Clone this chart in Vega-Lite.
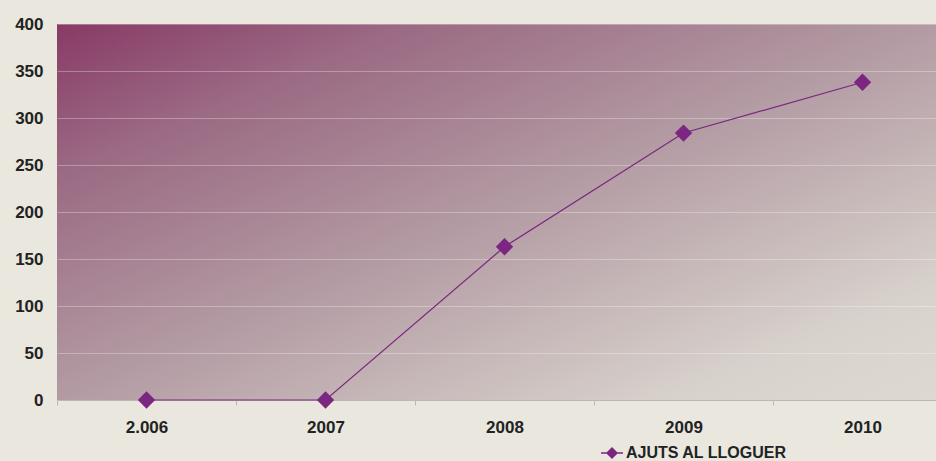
{
  "$schema": "https://vega.github.io/schema/vega-lite/v6.json",
  "width": 879,
  "height": 376,
  "autosize": {"type": "none"},
  "padding": {"left": 57, "top": 24, "right": 0, "bottom": 61},
  "background": "#e9e7de",
  "config": {
    "view": {
      "stroke": null,
      "fill": {
        "gradient": "linear",
        "x1": 0, "y1": 0, "x2": 1, "y2": 1,
        "stops": [
          {"offset": 0, "color": "#883a66"},
          {"offset": 0.2, "color": "#9b6a83"},
          {"offset": 0.5, "color": "#b39ba3"},
          {"offset": 0.85, "color": "#d8d2cc"},
          {"offset": 1, "color": "#ddd9d1"}
        ]
      }
    },
    "font": "Liberation Sans"
  },
  "data": {
    "values": [
      {"year": 2006, "value": 0, "serie": "AJUTS AL LLOGUER"},
      {"year": 2007, "value": 0, "serie": "AJUTS AL LLOGUER"},
      {"year": 2008, "value": 163, "serie": "AJUTS AL LLOGUER"},
      {"year": 2009, "value": 284, "serie": "AJUTS AL LLOGUER"},
      {"year": 2010, "value": 338, "serie": "AJUTS AL LLOGUER"}
    ]
  },
  "encoding": {
    "x": {
      "field": "year",
      "type": "quantitative",
      "scale": {"domain": [2005.5, 2010.4106], "nice": false, "zero": false},
      "axis": {
        "title": null,
        "values": [2005.5, 2006.5, 2007.5, 2008.5, 2009.5],
        "labelOffset": 89.5,
        "labelFlush": false,
        "labelOverlap": false,
        "labelExpr": "datum.value == 2005.5 ? '2.006' : format(datum.value + 0.5, 'd')",
        "labelFont": "Liberation Sans",
        "labelFontWeight": "bold",
        "labelFontSize": 17,
        "labelColor": "#222222",
        "labelPadding": 14,
        "tickSize": 5,
        "tickColor": "#bdb8b2",
        "domainColor": "#bdb8b2",
        "grid": false
      }
    },
    "y": {
      "field": "value",
      "type": "quantitative",
      "scale": {"domain": [0, 400], "nice": false},
      "axis": {
        "title": null,
        "values": [0, 50, 100, 150, 200, 250, 300, 350, 400],
        "labelFont": "Liberation Sans",
        "labelFontWeight": "bold",
        "labelFontSize": 17,
        "labelColor": "#222222",
        "labelPadding": 14,
        "ticks": false,
        "domain": false,
        "grid": true,
        "gridColor": "#ffffff",
        "gridOpacity": 0.3,
        "gridWidth": 1
      }
    },
    "color": {
      "field": "serie",
      "type": "nominal",
      "scale": {"range": ["#7b2680"]},
      "legend": {
        "title": null,
        "orient": "none",
        "legendX": 543,
        "legendY": 417,
        "padding": 0,
        "symbolType": "M-1,0H1M-0.45,0L0,-0.45L0.45,0L0,0.45Z",
        "symbolSize": 484,
        "symbolStrokeWidth": 1.5,
        "symbolStrokeColor": "#7b2680",
        "symbolFillColor": "#7b2680",
        "labelFont": "Liberation Sans",
        "labelFontWeight": "bold",
        "labelFontSize": 16,
        "labelColor": "#222222",
        "labelOffset": 2,
        "labelLimit": 0
      }
    }
  },
  "layer": [
    {"mark": {"type": "line", "strokeWidth": 1.2, "color": "#7a3872"}},
    {"mark": {"type": "point", "shape": "diamond", "filled": true, "size": 300, "opacity": 1}}
  ]
}
